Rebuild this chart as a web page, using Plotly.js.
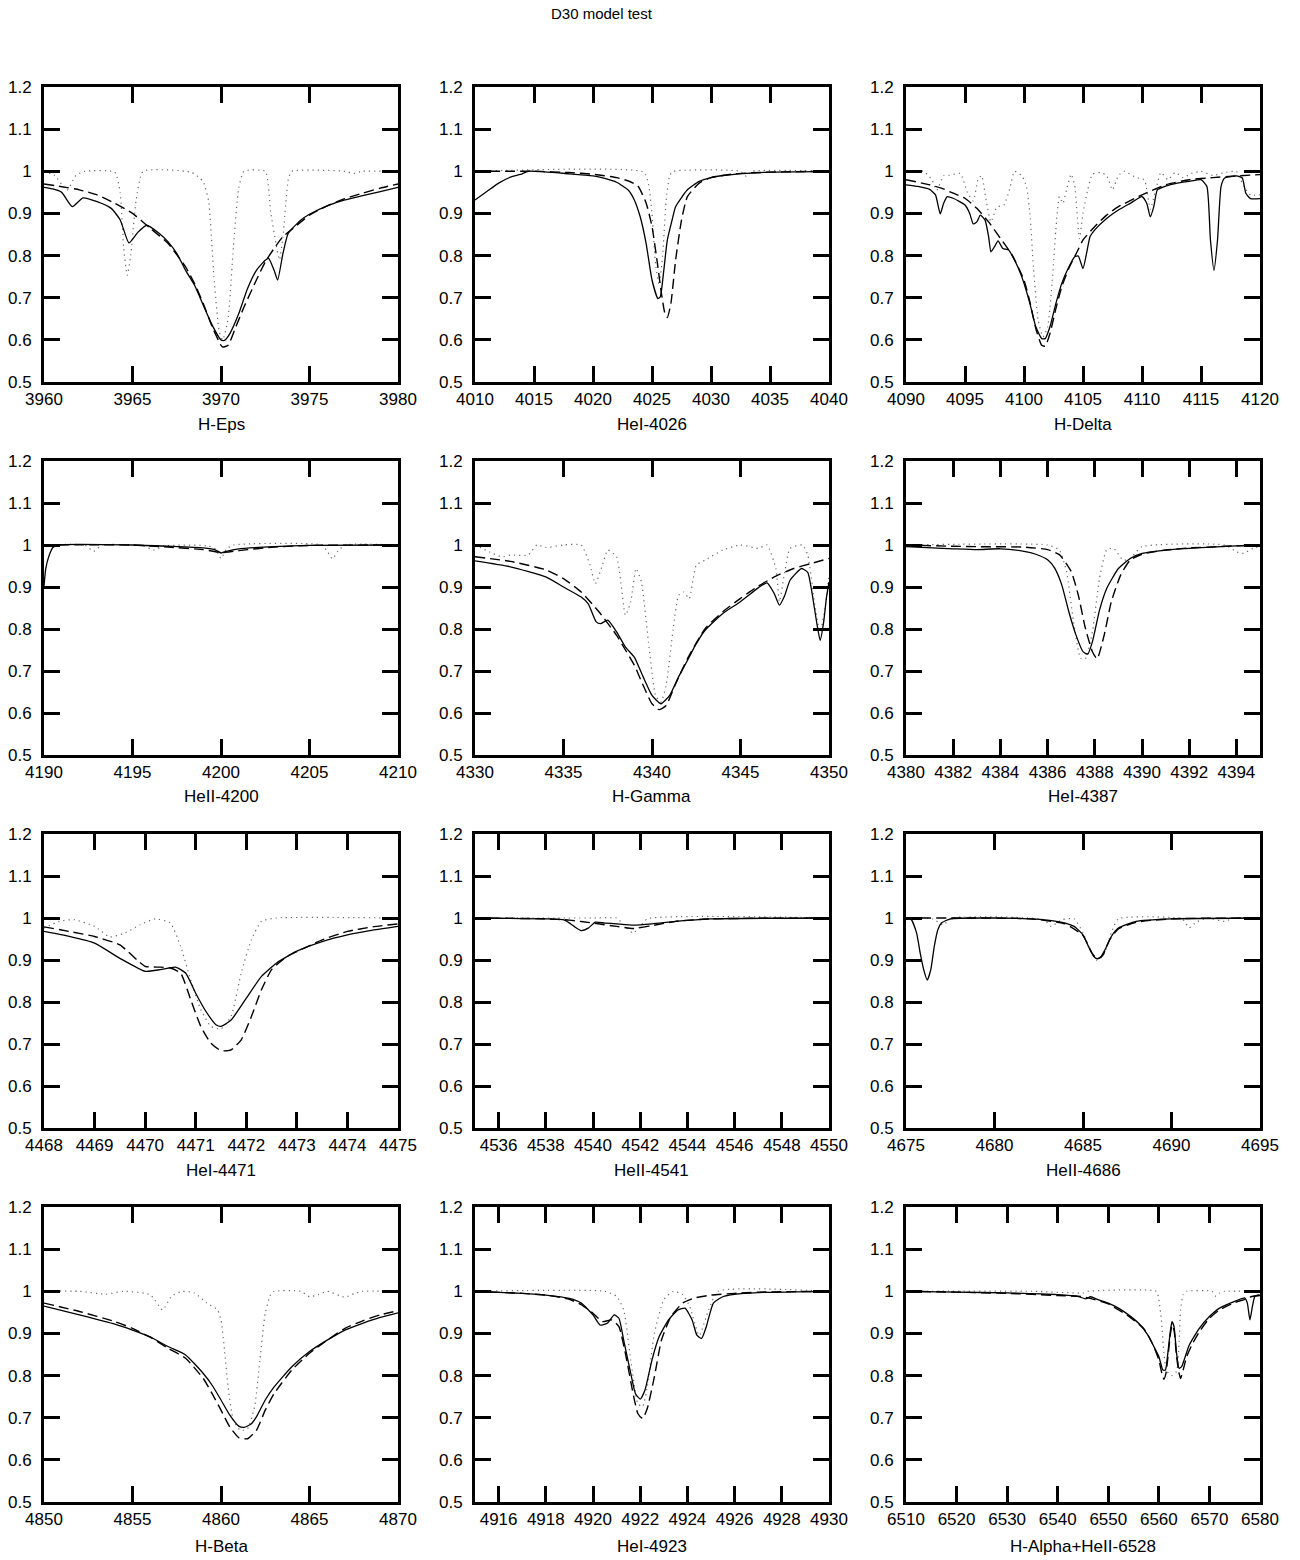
<!DOCTYPE html>
<html>
<head>
<meta charset="utf-8">
<script src="https://cdn.plot.ly/plotly-3.0.1.min.js"></script>
<style>body{margin:0;background:#fff;}#chart{width:1300px;height:1560px;}</style>
</head>
<body>
<div id="chart"></div>
<script>
// ---------- Panel titles, ranges, tick steps ----------
const panelNames = ['H-Eps','HeI-4026','H-Delta','HeII-4200','H-Gamma','HeI-4387','HeI-4471','HeII-4541','HeII-4686','H-Beta','HeI-4923','H-Alpha+HeII-6528'];
const xRanges = [[3960,3980],[4010,4040],[4090,4120],[4190,4210],[4330,4350],[4380,4395],[4468,4475],[4535,4550],[4675,4695],[4850,4870],[4915,4930],[6510,6580]];
const xSteps = [5,5,5,5,5,2,1,2,5,5,2,10];
const yRange = [0.5,1.2];

// ---------- 1: H-Eps ----------
const hEps_sol_x = [3960,3960.5,3961,3961.6,3962.2,3963,3963.8,3964.3,3964.8,3965.3,3965.8,3966.5,3967,3967.5,3968,3968.5,3969,3969.5,3970,3970.2,3970.5,3971,3971.5,3972,3972.5,3972.7,3973,3973.2,3973.5,3973.8,3974.5,3975,3976,3977,3978,3979,3980];
const hEps_sol_y = [0.962,0.958,0.950,0.916,0.937,0.928,0.912,0.885,0.830,0.855,0.872,0.853,0.833,0.805,0.765,0.730,0.682,0.635,0.600,0.599,0.615,0.662,0.722,0.765,0.789,0.793,0.765,0.742,0.805,0.853,0.884,0.898,0.918,0.932,0.942,0.952,0.962];
const hEps_dsh_x = [3960,3962,3963,3964,3965,3966,3967,3968,3968.5,3969,3969.5,3970,3970.1,3970.4,3970.8,3971.3,3972,3972.5,3973,3973.5,3974,3975,3976,3977,3978,3979,3980];
const hEps_dsh_y = [0.970,0.956,0.944,0.924,0.900,0.865,0.829,0.773,0.734,0.686,0.631,0.587,0.583,0.587,0.627,0.678,0.742,0.785,0.817,0.845,0.862,0.896,0.918,0.935,0.948,0.960,0.970];
const hEps_dot_x = [3960,3960.6,3961.3,3961.8,3962.3,3964,3964.3,3964.5,3964.7,3964.9,3965.2,3965.6,3968.3,3968.8,3969.0,3969.3,3969.6,3969.9,3970.1,3970.4,3970.7,3971.0,3971.3,3972.5,3972.8,3973.1,3973.3,3973.5,3973.8,3974,3977,3977.5,3978,3980];
const hEps_dot_y = [1.0,0.99,0.955,0.99,1.0,0.998,0.95,0.82,0.753,0.80,0.93,1.0,0.998,0.984,0.975,0.93,0.75,0.62,0.60,0.65,0.82,0.96,1.0,1.0,0.905,0.83,0.79,0.845,0.98,1.0,1.0,0.995,1.0,1.0];

// ---------- 2: HeI-4026 ----------
const he4026_sol_x = [4010,4011,4012,4013,4014,4014.5,4018,4020,4021,4022,4023,4023.5,4024,4024.5,4025,4025.5,4025.7,4026,4026.3,4026.7,4027,4028,4029,4030,4031,4033,4035,4040];
const he4026_sol_y = [0.932,0.952,0.972,0.986,0.994,1.0,0.994,0.989,0.983,0.974,0.955,0.932,0.892,0.829,0.742,0.698,0.702,0.765,0.837,0.884,0.916,0.956,0.976,0.985,0.990,0.995,0.998,1.0];
const he4026_dsh_x = [4010,4015,4018,4020,4022,4023,4023.8,4024.5,4025,4025.5,4025.8,4026.1,4026.3,4026.6,4027,4027.5,4028,4029,4030,4032,4035,4040];
const he4026_dsh_y = [1.0,1.0,0.997,0.993,0.985,0.977,0.965,0.925,0.869,0.773,0.71,0.662,0.653,0.686,0.789,0.884,0.94,0.972,0.985,0.994,0.998,1.0];
const he4026_dot_x = [4010,4024.3,4024.7,4025,4025.3,4025.6,4025.9,4026.2,4026.5,4026.8,4032.5,4033,4033.5,4040];
const he4026_dot_y = [1.0,0.998,0.97,0.90,0.78,0.73,0.80,0.93,0.99,1.0,1.0,0.988,1.0,1.0];

// ---------- 3: H-Delta ----------
const hDel_sol_x = [4090,4091,4092,4092.5,4092.9,4093.2,4093.5,4094,4095,4095.4,4095.7,4096,4096.3,4096.7,4097,4097.2,4097.5,4097.8,4098.2,4098.7,4099.2,4099.7,4100,4100.5,4101,4101.5,4101.8,4102.2,4102.7,4103.2,4103.8,4104.3,4104.6,4105,4105.3,4105.6,4106,4107,4108,4109,4110,4110.4,4110.7,4111,4111.3,4112,4113,4114,4115,4115.5,4115.8,4116.1,4116.4,4116.7,4117,4118,4118.5,4118.8,4119.2,4120];
const hDel_sol_y = [0.968,0.964,0.957,0.944,0.899,0.925,0.940,0.936,0.920,0.900,0.875,0.880,0.896,0.884,0.845,0.809,0.821,0.835,0.817,0.813,0.789,0.758,0.734,0.686,0.631,0.603,0.603,0.631,0.686,0.734,0.773,0.797,0.799,0.769,0.805,0.845,0.861,0.888,0.908,0.924,0.940,0.924,0.892,0.916,0.956,0.965,0.972,0.976,0.980,0.964,0.837,0.765,0.837,0.964,0.984,0.989,0.984,0.948,0.935,0.935];
const hDel_dsh_x = [4090,4092,4093,4094,4095,4096,4097,4098,4099,4100,4100.5,4101,4101.5,4101.8,4102.2,4102.7,4103.2,4103.8,4104.5,4105,4106,4107,4108,4110,4112,4114,4116,4118,4120];
const hDel_dsh_y = [0.980,0.968,0.960,0.948,0.936,0.912,0.880,0.841,0.801,0.742,0.690,0.627,0.587,0.585,0.615,0.674,0.726,0.770,0.809,0.837,0.869,0.896,0.916,0.944,0.968,0.980,0.985,0.989,0.992];
const hDel_dot_x = [4090,4091.5,4092.2,4092.6,4093.2,4093.6,4094.6,4095.2,4095.7,4096.1,4096.4,4096.8,4097.2,4097.7,4098.3,4098.8,4099.2,4099.8,4100.2,4100.5,4100.8,4101.2,4101.6,4102,4102.4,4102.7,4103,4103.3,4103.6,4104,4104.3,4104.7,4105,4105.4,4105.8,4106.5,4107,4107.5,4108,4108.5,4109.5,4110.2,4110.7,4111.2,4111.6,4112.2,4112.8,4113.5,4114.2,4115,4116,4117,4118,4118.6,4119.2,4120];
const hDel_dot_y = [1.0,1.0,0.98,0.955,0.99,0.99,0.995,0.95,0.93,0.98,0.99,0.93,0.88,0.915,0.92,0.96,1.0,0.99,0.965,0.90,0.773,0.647,0.607,0.63,0.742,0.861,0.94,0.924,0.956,0.993,0.965,0.84,0.90,0.956,0.993,0.997,0.99,0.956,0.99,1.0,0.985,0.98,0.91,0.96,0.997,0.98,0.997,0.985,0.995,1.0,0.99,0.997,1.0,0.965,0.944,0.944];

// ---------- 4: HeII-4200 ----------
const he4200_sol_x = [4190,4190.1,4190.3,4190.5,4190.8,4195,4197,4199,4199.7,4200,4200.3,4201,4203,4205,4210];
const he4200_sol_y = [0.902,0.944,0.976,0.994,1.0,1.0,0.997,0.993,0.988,0.981,0.985,0.991,0.996,0.999,1.0];
const he4200_dsh_x = [4190,4195,4197,4199,4199.7,4200,4200.5,4201.5,4203,4205,4210];
const he4200_dsh_y = [1.0,1.0,0.995,0.989,0.984,0.981,0.984,0.989,0.995,0.999,1.0];
const he4200_dot_x = [4190,4192.3,4192.8,4193.3,4195.6,4196.2,4196.8,4199.3,4199.7,4200,4200.3,4200.7,4205.7,4206,4206.3,4206.6,4207,4210];
const he4200_dot_y = [1.0,1.0,0.985,1.0,0.998,0.988,0.998,0.998,0.99,0.968,0.99,1.0,1.0,0.985,0.967,0.985,1.0,1.0];

// ---------- 5: H-Gamma ----------
const hGam_sol_x = [4330,4332,4334,4335,4336,4336.4,4336.85,4337.1,4337.5,4338,4338.5,4339,4339.5,4340,4340.5,4341,4341.5,4342,4342.5,4343,4344,4345,4346,4346.5,4346.9,4347.2,4347.5,4347.8,4348.45,4348.8,4349.0,4349.3,4349.5,4349.7,4349.85,4350];
const hGam_sol_y = [0.962,0.948,0.924,0.900,0.876,0.860,0.817,0.813,0.821,0.793,0.757,0.733,0.686,0.642,0.622,0.642,0.686,0.725,0.765,0.797,0.837,0.865,0.898,0.910,0.885,0.857,0.880,0.916,0.944,0.935,0.896,0.817,0.773,0.817,0.873,0.912];
const hGam_dsh_x = [4330,4332,4334,4335,4336,4337,4338,4338.5,4339,4339.5,4340,4340.4,4340.8,4341.3,4342,4343,4344,4345,4346,4347,4348,4349,4350];
const hGam_dsh_y = [0.972,0.961,0.941,0.920,0.888,0.841,0.785,0.750,0.714,0.666,0.622,0.608,0.618,0.666,0.729,0.801,0.841,0.873,0.902,0.926,0.944,0.956,0.968];
const hGam_dot_x = [4330,4331,4331.5,4332,4333,4333.5,4334,4335,4336,4336.5,4336.8,4337.2,4337.5,4338,4338.5,4338.8,4339.1,4339.4,4339.8,4340.2,4340.5,4340.8,4341.2,4341.5,4341.8,4342.1,4342.5,4343,4344,4345,4346,4346.5,4347,4347.2,4347.5,4347.8,4348.5,4348.8,4349.2,4349.5,4349.8,4350];
const hGam_dot_y = [1.0,0.98,0.972,0.976,0.976,1.0,0.994,1.0,1.0,0.952,0.908,0.952,0.988,0.972,0.833,0.865,0.944,0.912,0.769,0.642,0.626,0.666,0.801,0.880,0.888,0.872,0.952,0.964,0.988,1.0,0.992,1.0,0.944,0.865,0.936,0.992,1.0,0.976,0.857,0.793,0.857,0.928];

// ---------- 6: HeI-4387 ----------
const he4387_sol_x = [4380,4382,4383,4384,4385,4385.5,4386,4386.3,4386.6,4386.9,4387.2,4387.5,4387.7,4387.9,4388.2,4388.5,4389,4389.5,4390,4391,4392,4393,4394,4395];
const he4387_sol_y = [0.996,0.991,0.989,0.991,0.985,0.978,0.965,0.945,0.905,0.841,0.786,0.746,0.740,0.770,0.845,0.896,0.944,0.968,0.980,0.988,0.992,0.995,0.998,1.0];
const he4387_dsh_x = [4380,4382,4383,4385,4386,4386.5,4387,4387.3,4387.6,4387.9,4388.1,4388.4,4388.7,4389.1,4389.5,4390,4391,4392,4394,4395];
const he4387_dsh_y = [1.0,0.997,0.996,0.995,0.989,0.977,0.937,0.881,0.802,0.746,0.729,0.786,0.865,0.929,0.964,0.978,0.988,0.993,0.998,1.0];
const he4387_dot_x = [4380,4386,4386.5,4386.8,4387.1,4387.4,4387.6,4387.9,4388.2,4388.5,4388.8,4389.2,4389.5,4390,4393.5,4394,4394.3,4394.7,4395];
const he4387_dot_y = [1.0,1.0,0.988,0.937,0.817,0.730,0.729,0.794,0.921,0.988,0.992,0.964,0.968,0.996,1.0,0.984,0.980,0.992,0.996];

// ---------- 7: HeI-4471 ----------
const he4471_sol_x = [4468,4468.5,4469,4469.5,4470,4470.3,4470.6,4470.8,4471,4471.2,4471.4,4471.5,4471.7,4472,4472.3,4472.6,4473,4473.5,4474,4474.5,4475];
const he4471_sol_y = [0.968,0.956,0.940,0.904,0.873,0.877,0.883,0.869,0.821,0.778,0.746,0.742,0.757,0.809,0.861,0.893,0.921,0.944,0.960,0.971,0.980];
const he4471_dsh_x = [4468,4468.5,4469,4469.5,4470,4470.3,4470.5,4470.7,4470.9,4471.1,4471.3,4471.5,4471.7,4471.9,4472.1,4472.3,4472.5,4472.8,4473,4473.5,4474,4474.5,4475];
const he4471_dsh_y = [0.979,0.968,0.956,0.936,0.885,0.883,0.881,0.869,0.806,0.742,0.702,0.684,0.686,0.710,0.765,0.829,0.877,0.908,0.920,0.948,0.968,0.979,0.986];
const he4471_dot_x = [4468,4468.3,4468.6,4469,4469.3,4469.6,4469.9,4470.2,4470.5,4470.7,4470.9,4471.1,4471.3,4471.5,4471.7,4471.9,4472.1,4472.3,4472.6,4475];
const he4471_dot_y = [0.976,0.992,0.996,0.980,0.955,0.964,0.984,0.998,0.988,0.933,0.853,0.782,0.742,0.736,0.766,0.869,0.948,0.992,1.0,1.0];

// ---------- 8: HeII-4541 ----------
const he4541_sol_x = [4535,4538,4538.8,4539.2,4539.5,4539.8,4540.1,4540.5,4541,4541.7,4542.5,4543.5,4545,4550];
const he4541_sol_y = [1.0,0.998,0.995,0.980,0.970,0.976,0.990,0.988,0.986,0.983,0.986,0.992,0.998,1.0];
const he4541_dsh_x = [4535,4538,4539,4540,4541,4541.7,4542.5,4543.5,4545,4550];
const he4541_dsh_y = [1.0,0.998,0.995,0.988,0.980,0.975,0.982,0.992,0.998,1.0];
const he4541_dot_x = [4535,4540,4541,4541.3,4541.7,4542,4542.3,4550];
const he4541_dot_y = [1.0,1.0,1.0,0.984,0.964,0.980,0.998,1.0];

// ---------- 9: HeII-4686 ----------
const he4686_sol_x = [4675,4675.3,4675.6,4675.8,4676,4676.2,4676.4,4676.6,4676.8,4677,4677.5,4680,4682,4683,4684,4684.5,4685,4685.3,4685.6,4685.8,4686,4686.3,4686.6,4687,4688,4690,4695];
const he4686_sol_y = [1.0,0.996,0.964,0.917,0.877,0.852,0.877,0.933,0.972,0.988,0.998,1.0,0.998,0.995,0.988,0.980,0.960,0.933,0.909,0.903,0.907,0.929,0.956,0.976,0.992,0.998,1.0];
const he4686_dsh_x = [4675,4682,4684,4685,4685.5,4685.8,4686.1,4686.5,4687,4688,4690,4695];
const he4686_dsh_y = [1.0,0.998,0.986,0.958,0.917,0.903,0.910,0.948,0.974,0.990,0.998,1.0];
const he4686_dot_x = [4675,4676.5,4677.1,4677.6,4682.8,4683.2,4683.8,4684.5,4685,4685.4,4685.8,4686.2,4686.6,4687,4690.6,4691,4691.4,4692,4693,4693.5,4695];
const he4686_dot_y = [1.0,0.998,0.984,1.0,0.996,0.980,0.996,0.998,0.965,0.925,0.899,0.915,0.965,0.998,0.998,0.977,0.990,1.0,0.992,1.0,1.0];

// ---------- 10: H-Beta ----------
const hBet_sol_x = [4850,4852,4854,4855,4856,4857,4858,4859,4859.5,4860,4860.5,4861,4861.3,4861.7,4862,4862.5,4863,4864,4865,4866,4867,4868,4869,4870];
const hBet_sol_y = [0.965,0.944,0.922,0.908,0.892,0.869,0.849,0.805,0.777,0.742,0.706,0.680,0.677,0.685,0.702,0.742,0.773,0.821,0.857,0.884,0.908,0.924,0.938,0.949];
const hBet_dsh_x = [4850,4852,4854,4855,4856,4857,4858,4859,4859.5,4860,4860.5,4861,4861.5,4862,4862.5,4863,4864,4865,4866,4867,4868,4869,4870];
const hBet_dsh_y = [0.972,0.952,0.928,0.912,0.891,0.865,0.841,0.793,0.757,0.718,0.678,0.653,0.650,0.670,0.718,0.757,0.813,0.853,0.884,0.912,0.930,0.944,0.954];
const hBet_dot_x = [4850,4852,4853.5,4854.5,4856,4856.7,4857.2,4857.8,4858.5,4859.2,4859.8,4860,4860.2,4860.4,4860.7,4861.1,4861.5,4861.9,4862.2,4862.5,4862.8,4863,4864.5,4865,4865.5,4866,4867,4867.5,4868,4870];
const hBet_dot_y = [1.0,1.0,0.993,1.0,0.992,0.956,0.988,1.0,0.996,0.972,0.956,0.932,0.860,0.773,0.694,0.670,0.674,0.726,0.837,0.948,0.992,1.0,1.0,0.987,0.992,1.0,0.986,0.994,1.0,1.0];

// ---------- 11: HeI-4923 ----------
const he4923_sol_x = [4915,4917,4918,4919,4919.5,4920,4920.3,4920.6,4920.9,4921.1,4921.3,4921.6,4921.8,4922,4922.2,4922.5,4922.8,4923.2,4923.6,4923.9,4924.2,4924.4,4924.6,4924.8,4925.1,4925.5,4926,4927,4930];
const he4923_sol_y = [1.0,0.995,0.991,0.983,0.972,0.944,0.920,0.924,0.944,0.936,0.884,0.805,0.757,0.744,0.765,0.837,0.892,0.932,0.956,0.960,0.932,0.896,0.888,0.916,0.972,0.987,0.993,0.997,1.0];
const he4923_dsh_x = [4915,4917,4918,4919,4919.5,4920,4920.4,4920.8,4921.1,4921.4,4921.7,4921.9,4922.1,4922.3,4922.6,4922.9,4923.3,4923.8,4924.3,4925,4926,4927,4930];
const he4923_dsh_y = [1.0,0.995,0.991,0.981,0.968,0.948,0.928,0.932,0.916,0.845,0.757,0.710,0.698,0.722,0.797,0.884,0.940,0.972,0.984,0.991,0.995,0.998,1.0];
const he4923_dot_x = [4915,4920.5,4921,4921.3,4921.6,4921.9,4922.1,4922.3,4922.6,4923,4923.4,4923.8,4924.1,4924.5,4924.9,4925.3,4930];
const he4923_dot_y = [1.0,1.0,0.988,0.956,0.837,0.734,0.726,0.773,0.900,0.980,1.0,0.992,0.964,0.895,0.956,1.0,1.0];

// ---------- 12: H-Alpha+HeII-6528 ----------
const hAlp_sol_x = [6510,6520,6530,6540,6544,6545.5,6546.5,6548,6550,6552,6554,6556,6558,6559,6560,6560.8,6561.3,6561.7,6562.3,6562.6,6563,6563.5,6564,6564.5,6565,6566,6568,6570,6572,6575,6577,6577.5,6578,6578.5,6579,6580];
const hAlp_sol_y = [1.0,0.998,0.996,0.992,0.988,0.982,0.987,0.980,0.972,0.960,0.944,0.924,0.893,0.869,0.845,0.813,0.813,0.845,0.908,0.928,0.916,0.853,0.817,0.821,0.837,0.872,0.912,0.940,0.960,0.976,0.984,0.972,0.932,0.964,0.988,0.990];
const hAlp_dsh_x = [6510,6520,6530,6540,6545,6550,6554,6557,6559,6560,6560.6,6561,6561.4,6561.8,6562.3,6562.6,6563,6563.5,6564,6564.3,6564.8,6565.5,6566.5,6568,6570,6572,6575,6577,6578,6580];
const hAlp_dsh_y = [1.0,0.998,0.995,0.990,0.987,0.970,0.941,0.912,0.869,0.837,0.805,0.791,0.805,0.845,0.900,0.920,0.908,0.845,0.805,0.793,0.813,0.845,0.872,0.904,0.936,0.956,0.973,0.981,0.986,0.992];
const hAlp_dot_x = [6510,6535,6545,6546,6559.5,6560,6560.5,6561,6561.5,6562.5,6563.5,6564,6564.3,6564.8,6565.5,6570.5,6571.3,6572,6573,6580];
const hAlp_dot_y = [1.0,1.0,0.996,1.0,1.0,0.980,0.932,0.853,0.812,0.80,0.81,0.88,0.956,0.992,1.0,1.0,0.988,0.996,1.0,1.0];

const solidX = [hEps_sol_x,he4026_sol_x,hDel_sol_x,he4200_sol_x,hGam_sol_x,he4387_sol_x,he4471_sol_x,he4541_sol_x,he4686_sol_x,hBet_sol_x,he4923_sol_x,hAlp_sol_x];
const solidY = [hEps_sol_y,he4026_sol_y,hDel_sol_y,he4200_sol_y,hGam_sol_y,he4387_sol_y,he4471_sol_y,he4541_sol_y,he4686_sol_y,hBet_sol_y,he4923_sol_y,hAlp_sol_y];
const dashX = [hEps_dsh_x,he4026_dsh_x,hDel_dsh_x,he4200_dsh_x,hGam_dsh_x,he4387_dsh_x,he4471_dsh_x,he4541_dsh_x,he4686_dsh_x,hBet_dsh_x,he4923_dsh_x,hAlp_dsh_x];
const dashY = [hEps_dsh_y,he4026_dsh_y,hDel_dsh_y,he4200_dsh_y,hGam_dsh_y,he4387_dsh_y,he4471_dsh_y,he4541_dsh_y,he4686_dsh_y,hBet_dsh_y,he4923_dsh_y,hAlp_dsh_y];
const dotX = [hEps_dot_x,he4026_dot_x,hDel_dot_x,he4200_dot_x,hGam_dot_x,he4387_dot_x,he4471_dot_x,he4541_dot_x,he4686_dot_x,hBet_dot_x,he4923_dot_x,hAlp_dot_x];
const dotY = [hEps_dot_y,he4026_dot_y,hDel_dot_y,he4200_dot_y,hGam_dot_y,he4387_dot_y,he4471_dot_y,he4541_dot_y,he4686_dot_y,hBet_dot_y,he4923_dot_y,hAlp_dot_y];

// ---------- Layout geometry (pixels) ----------
const W = 1300, H = 1560;
const colL = [44, 475, 906], colR = [398, 829, 1260];
const rowT = [87, 461, 834, 1207], rowB = [382, 755, 1128, 1502];
const labelY = [425, 797, 1170, 1546];
const FONT = 'Liberation Sans, Arial, Helvetica, sans-serif';

const traces = [];
const layout = {
  width: W, height: H,
  margin: {l:0, r:0, t:0, b:0},
  paper_bgcolor: '#fff', plot_bgcolor: '#fff',
  showlegend: false,
  font: {family: FONT, size: 17, color: '#000'},
  annotations: [{
    text: 'D30 model test', xref: 'paper', yref: 'paper',
    x: 602/W, y: 1 - 14/H, xanchor: 'center', yanchor: 'middle',
    showarrow: false, font: {family: FONT, size: 15, color: '#000'}
  }]
};

for (let k = 0; k < 12; k++) {
  const r = Math.floor(k/3), c = k % 3;
  const sfx = k === 0 ? '' : String(k+1);
  const xa = 'x' + sfx, ya = 'y' + sfx;
  const line = {shape: 'spline', smoothing: 0.5};
  traces.push({x: dotX[k], y: dotY[k], xaxis: xa, yaxis: ya, mode: 'lines', hoverinfo: 'skip',
    line: Object.assign({color: '#666', width: 1.2, dash: '1.2px,4px'}, line)});
  traces.push({x: dashX[k], y: dashY[k], xaxis: xa, yaxis: ya, mode: 'lines', hoverinfo: 'skip',
    line: Object.assign({color: '#000', width: 1.4, dash: '10px,5px'}, line)});
  traces.push({x: solidX[k], y: solidY[k], xaxis: xa, yaxis: ya, mode: 'lines', hoverinfo: 'skip',
    line: Object.assign({color: '#000', width: 1.3}, line)});

  const common = {
    showgrid: false, zeroline: false, showline: true, linecolor: '#000', linewidth: 3,
    mirror: 'ticks', ticks: 'inside', ticklen: 16, tickwidth: 3, tickcolor: '#000',
    tickfont: {family: FONT, size: 17, color: '#000'}, fixedrange: true
  };
  layout['xaxis' + sfx] = Object.assign({}, common, {
    domain: [colL[c]/W, colR[c]/W], anchor: ya, range: xRanges[k],
    tick0: 0, dtick: xSteps[k]
  });
  layout['yaxis' + sfx] = Object.assign({}, common, {
    domain: [1 - rowB[r]/H, 1 - rowT[r]/H], anchor: xa, range: yRange,
    tick0: 0.5, dtick: 0.1, ticklabelstandoff: 6
  });
  layout.annotations.push({
    text: panelNames[k], xref: 'paper', yref: 'paper',
    x: (colL[c] + colR[c]) / 2 / W, y: 1 - labelY[r]/H, xanchor: 'center', yanchor: 'middle',
    showarrow: false, font: {family: FONT, size: 17, color: '#000'}
  });
}

Plotly.newPlot('chart', traces, layout, {staticPlot: true, displayModeBar: false});
</script>
</body>
</html>
